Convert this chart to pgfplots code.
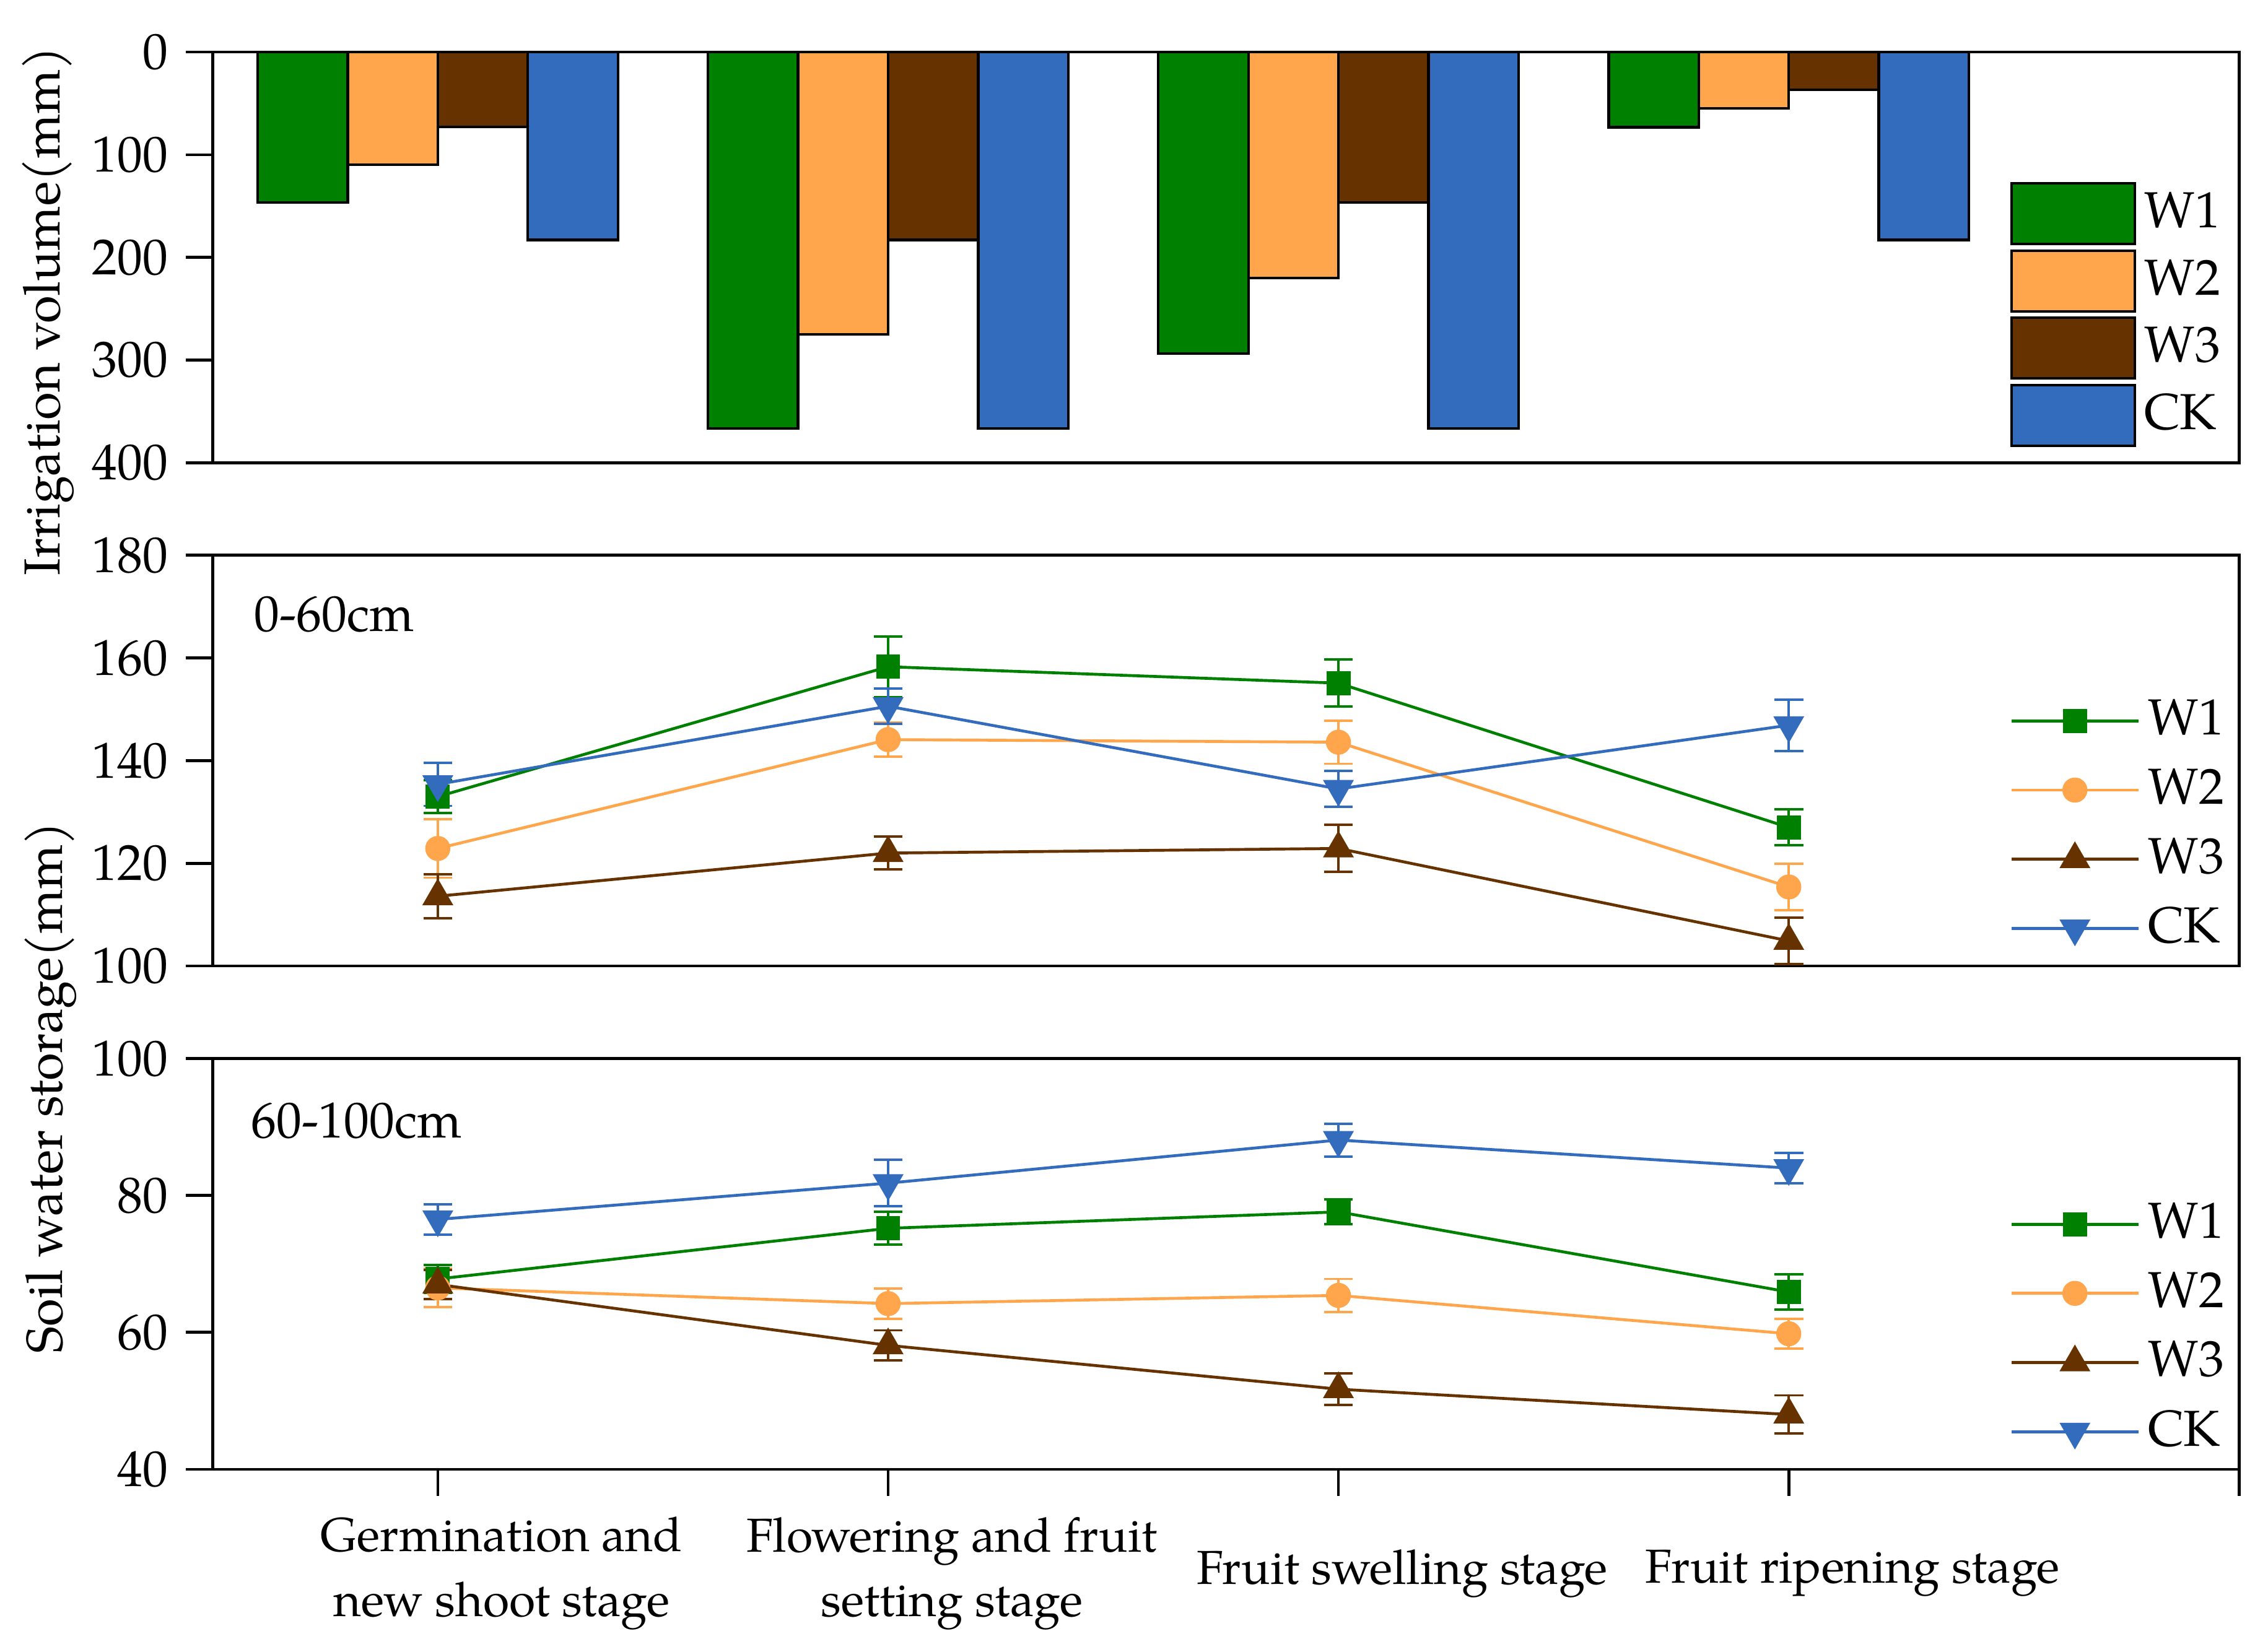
\documentclass[border=0pt]{standalone}
\usepackage{fontspec}
\setmainfont{TeX Gyre Pagella}
\usepackage{pgfplots}
\pgfplotsset{compat=1.18}
\definecolor{cW1}{RGB}{0,128,0}
\definecolor{cW2}{RGB}{255,166,77}
\definecolor{cW3}{RGB}{102,51,0}
\definecolor{cCK}{RGB}{51,107,189}
\pgfplotsset{
  common/.style={
    width=420.3pt, height=85.2pt, scale only axis,
    xmin=-0.5, xmax=4, clip=false,
    axis line style={line width=0.6pt},
    tick style={line width=0.6pt, black},
    major tick length=5.6pt, tick align=outside,
    ytick pos=left, xtick pos=left,
    /pgf/number format/assume math mode=true,
    anchor=north west,
  },
  linestyle/.style={
    common,
    legend image code/.code={\draw[##1, mark repeat=2, mark phase=2] plot coordinates {(0pt,0pt) (13.15pt,0pt) (26.3pt,0pt)};},
    legend style={draw=none, fill=none, inner sep=0pt, row sep=3.9pt, column sep=1pt,
      nodes={inner sep=0.75pt}, legend cell align=left},
    error bars/error bar style={line width=0.5pt},
    error bars/error mark options={rotate=90, mark size=3pt, line width=0.5pt},
  },
  pW1/.style={color=cW1, line width=0.6pt, mark=square*, mark size=2.2pt, mark options={solid}},
  pW2/.style={color=cW2, line width=0.6pt, mark=*, mark size=2.3pt, mark options={solid}},
  pW3/.style={color=cW3, line width=0.6pt, mark=triangle*, mark size=3.1pt, mark options={solid}},
  pCK/.style={color=cCK, line width=0.6pt, mark=triangle*, mark size=3.1pt, mark options={solid, rotate=180}},
}
\begin{document}
\fontsize{10.5}{13.4}\selectfont
\begin{tikzpicture}
\path[use as bounding box] (0pt,0pt) rectangle (470.4pt,-342.6pt);

% ---------- top: irrigation volume ----------
\begin{axis}[common, at={(44.1pt,-10.8pt)},
  y dir=reverse, ymin=0, ymax=400, ytick={0,100,200,300,400},
  xtick=\empty,
  ybar, bar width=0.2,
  legend image code/.code={\draw[#1, line width=0.55pt] (0pt,-6.3pt) rectangle (25.6pt,6.3pt);},
  legend style={draw=none, fill=none, inner sep=0pt, row sep=0.8pt, column sep=1pt,
    nodes={inner sep=0.75pt}, at={(0.8865,0.686)}, anchor=north west, legend cell align=left},
]
\addplot[fill=cW1, draw=black, line width=0.55pt, bar shift=-0.3] coordinates {(0,146.5) (1,366.5) (2,293.5) (3,73.3)};
\addplot[fill=cW2, draw=black, line width=0.55pt, bar shift=-0.1] coordinates {(0,109.5) (1,275) (2,220) (3,55)};
\addplot[fill=cW3, draw=black, line width=0.55pt, bar shift=0.1] coordinates {(0,73) (1,183) (2,146.5) (3,36.8)};
\addplot[fill=cCK, draw=black, line width=0.55pt, bar shift=0.3] coordinates {(0,183) (1,366.5) (2,366.5) (3,183)};
\legend{W1,W2,W3,CK}
\end{axis}

% ---------- middle: 0-60 cm ----------
\begin{axis}[linestyle, at={(44.1pt,-115.2pt)},
  ymin=100, ymax=180, ytick={100,120,140,160,180},
  xtick=\empty,
  legend style={at={(0.8865,0.66)}, anchor=north west},
]
\addplot[pW1, error bars/.cd, y dir=both, y explicit] coordinates {(0,133.0) +- (0,3.2) (1,158.3) +- (0,5.9) (2,155.1) +- (0,4.6) (3,127.0) +- (0,3.5)};
\addplot[pW2, error bars/.cd, y dir=both, y explicit] coordinates {(0,122.9) +- (0,5.7) (1,144.1) +- (0,3.3) (2,143.6) +- (0,4.2) (3,115.4) +- (0,4.5)};
\addplot[pW3, error bars/.cd, y dir=both, y explicit] coordinates {(0,113.6) +- (0,4.3) (1,122.0) +- (0,3.2) (2,122.9) +- (0,4.6) (3,104.9) +- (0,4.5)};
\addplot[pCK, error bars/.cd, y dir=both, y explicit] coordinates {(0,135.4) +- (0,4.2) (1,150.6) +- (0,3.4) (2,134.5) +- (0,3.5) (3,146.9) +- (0,5.0)};
\legend{W1,W2,W3,CK}
\node[anchor=west, inner sep=0pt] at (rel axis cs:0.02,0.856) {0-60cm};
\end{axis}

% ---------- bottom: 60-100 cm ----------
\begin{axis}[linestyle, at={(44.1pt,-219.6pt)},
  ymin=40, ymax=100, ytick={40,60,80,100},
  xtick={0,1,2,3,4},
  xticklabels={{Germination and\\new shoot stage},{Flowering and fruit\\setting stage},{Fruit swelling stage},{Fruit ripening stage},{}},
  xticklabel style={font=\fontsize{9.9}{13.4}\selectfont, align=center, anchor=center, xshift=13.2pt, yshift=-16pt},
  legend style={at={(0.8865,0.66)}, anchor=north west},
]
\addplot[pW1, error bars/.cd, y dir=both, y explicit] coordinates {(0,67.8) +- (0,2.0) (1,75.2) +- (0,2.4) (2,77.6) +- (0,1.8) (3,65.9) +- (0,2.6)};
\addplot[pW2, error bars/.cd, y dir=both, y explicit] coordinates {(0,66.5) +- (0,2.8) (1,64.2) +- (0,2.2) (2,65.4) +- (0,2.4) (3,59.8) +- (0,2.2)};
\addplot[pW3, error bars/.cd, y dir=both, y explicit] coordinates {(0,67.0) +- (0,2.1) (1,58.1) +- (0,2.2) (2,51.7) +- (0,2.3) (3,48.0) +- (0,2.8)};
\addplot[pCK, error bars/.cd, y dir=both, y explicit] coordinates {(0,76.5) +- (0,2.2) (1,81.8) +- (0,3.4) (2,88.1) +- (0,2.4) (3,84.0) +- (0,2.2)};
\legend{W1,W2,W3,CK}
\node[anchor=west, inner sep=0pt] at (rel axis cs:0.0186,0.849) {60-100cm};
\end{axis}

\node[rotate=90, inner sep=0pt] at (10pt,-64.5pt) {Irrigation volume(mm)};
\node[rotate=90, inner sep=0pt] at (10.5pt,-225.6pt) {Soil water storage(mm)};
\end{tikzpicture}
\end{document}
